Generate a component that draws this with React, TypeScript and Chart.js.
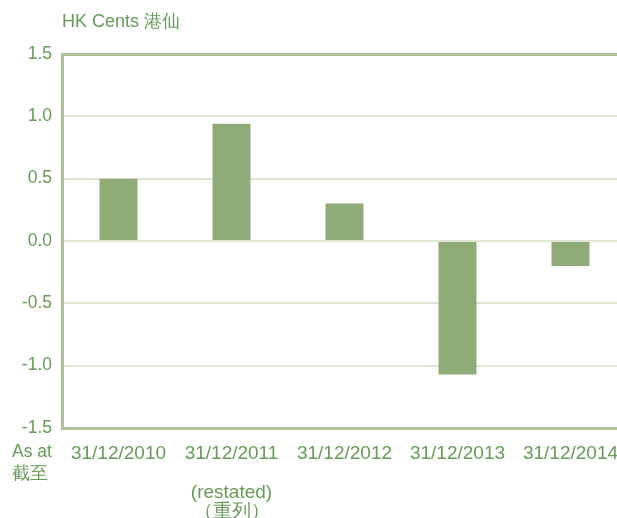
import React, { useEffect, useRef } from "react";
import { Chart, registerables } from "chart.js";

Chart.register(...registerables);

const categories: (string | string[])[] = [
  "31/12/2010",
  ["31/12/2011", "", "(restated)", "（重列）"],
  "31/12/2012",
  "31/12/2013",
  "31/12/2014",
];
const values = [0.5, 0.94, 0.3, -1.07, -0.2];
const yTicks = [1.5, 1.0, 0.5, 0.0, -0.5, -1.0, -1.5];
const unitLabel = "HK Cents 港仙";
const asAtLabel = ["As at", "截至"];

const TEXT = "#669c58";
const AXIS = "#adc399";
const GRID = "#e0e5d5";
const BAR = "#8fab77";
const FONT = "'Liberation Sans', Arial, Helvetica, sans-serif";

export default function App() {
  const ref = useRef<HTMLCanvasElement>(null);
  useEffect(() => {
    document.body.style.margin = "0";
    const textPlugin = {
      id: "extraText",
      afterDraw(chart: any) {
        const ctx = chart.ctx;
        ctx.save();
        ctx.fillStyle = TEXT;
        ctx.textBaseline = "middle";
        ctx.textAlign = "left";
        ctx.font = `18px ${FONT}`;
        ctx.fillText(unitLabel, 62, 22);
        ctx.font = `17.5px ${FONT}`;
        ctx.fillText(asAtLabel[0], 12, 452);
        ctx.fillText(asAtLabel[1], 12, 474);
        ctx.restore();
      },
    };
    const chart = new Chart(ref.current!, {
      type: "bar",
      data: {
        labels: categories,
        datasets: [
          {
            data: values,
            backgroundColor: BAR,
            barPercentage: 0.336,
            categoryPercentage: 1,
          },
        ],
      },
      plugins: [textPlugin],
      options: {
        animation: false,
        responsive: false,
        layout: { padding: { left: 0, right: 13, top: 54, bottom: 0 } },
        plugins: { legend: { display: false }, tooltip: { enabled: false } },
        scales: {
          x: {
            grid: { display: false },
            border: { display: true, color: AXIS, width: 3 },
            ticks: {
              color: TEXT,
              font: { family: FONT, size: 19, lineHeight: "19.5px" },
              padding: 8,
              maxRotation: 0,
              autoSkip: false,
            },
            afterFit: (s: any) => {
              s.height = 90;
            },
          },
          y: {
            min: -1.5,
            max: 1.5,
            afterBuildTicks: (s: any) => {
              s.ticks = yTicks.map((v) => ({ value: v }));
            },
            afterFit: (s: any) => {
              s.width = 62;
            },
            grid: {
              drawTicks: false,
              color: (c: any) => (c.tick && c.tick.value === 1.5 ? AXIS : GRID),
              lineWidth: (c: any) => (c.tick && c.tick.value === 1.5 ? 3 : 2),
            },
            border: { display: true, color: AXIS, width: 3 },
            ticks: {
              color: TEXT,
              font: { family: FONT, size: 17.5 },
              padding: 10,
              callback: (v: any) => Number(v).toFixed(1),
            },
          },
        },
      },
    });
    return () => chart.destroy();
  }, []);
  return (
    <div style={{ width: 617, height: 518, overflow: "hidden", background: "#fff" }}>
      <canvas ref={ref} width={640} height={518} style={{ display: "block" }} />
    </div>
  );
}
